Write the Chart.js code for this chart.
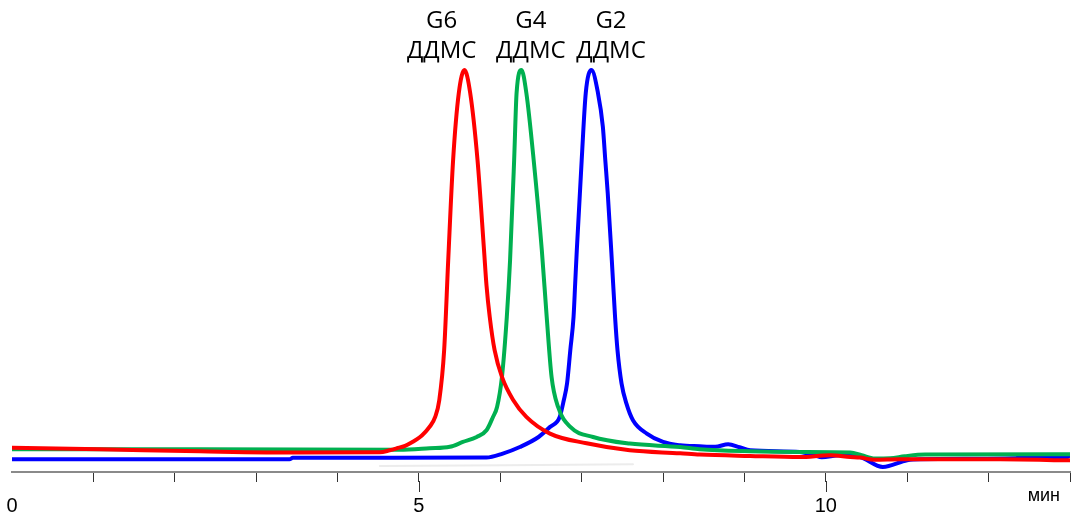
<!DOCTYPE html>
<html>
<head>
<meta charset="utf-8">
<script src="https://cdn.jsdelivr.net/npm/chart.js@4"></script>
<style>
  html, body { margin: 0; padding: 0; background: #fff; }
  #wrap { width: 1074px; height: 515px; position: relative; }
</style>
</head>
<body>
<div id="wrap"><canvas id="chromChart"></canvas></div>
<script>
// retention time (min) and detector signal for each sample
const g6Time = [0, 1.08, 2.31, 3.54, 4.52, 4.64, 4.73, 4.83, 4.92, 5.01, 5.08, 5.13, 5.20, 5.25, 5.31, 5.36, 5.42, 5.49, 5.56, 5.63, 5.72, 5.80, 5.83, 5.87, 5.93, 6.02, 6.16, 6.32, 6.61, 7.06, 7.59, 8.21, 8.45, 9.07, 9.68, 10.05, 10.30, 10.42, 10.60, 10.91, 12.14, 13.0];
const g6Signal = [6.02, 5.65, 5.15, 4.83, 4.9, 5.4, 5.9, 6.52, 7.47, 8.64, 10.0, 11.2, 13.7, 17.85, 30.3, 52.7, 77.6, 94.3, 100, 94.3, 77.6, 55.2, 46.5, 38.6, 30.3, 23.65, 17.85, 13.7, 9.56, 7.14, 5.4, 4.66, 4.33, 3.98, 3.73, 4.16, 3.73, 3.58, 3.04, 3.16, 3.16, 2.91];

const g4Time = [0, 2.31, 4.76, 5.13, 5.38, 5.54, 5.71, 5.83, 5.91, 5.96, 6.02, 6.08, 6.12, 6.17, 6.20, 6.26, 6.32, 6.41, 6.51, 6.57, 6.63, 6.71, 6.86, 7.14, 7.59, 8.21, 8.45, 9.07, 9.68, 10.30, 10.44, 10.60, 10.79, 10.97, 11.22, 13.0];
const g4Signal = [5.65, 5.65, 5.53, 5.9, 6.27, 7.47, 8.71, 10.38, 13.7, 16.18, 23.65, 38.6, 52.7, 77.6, 94.3, 100, 94.3, 77.6, 55.2, 38.6, 23.65, 16.18, 11.2, 8.71, 7.07, 6.22, 5.65, 5.15, 4.98, 4.83, 4.16, 3.34, 3.41, 3.91, 4.33, 4.41];

const g2Time = [0, 3.41, 3.45, 5.83, 6.03, 6.24, 6.47, 6.61, 6.73, 6.78, 6.82, 6.86, 6.90, 6.92, 6.94, 7.00, 7.05, 7.12, 7.20, 7.26, 7.29, 7.32, 7.37, 7.41, 7.44, 7.49, 7.55, 7.63, 7.80, 8.00, 8.21, 8.45, 8.64, 8.80, 8.94, 9.07, 9.68, 9.86, 9.95, 10.17, 10.42, 10.70, 11.00, 11.16, 12.32, 12.38, 12.95, 13.0];
const g2Signal = [3.16, 3.16, 3.53, 3.58, 4.58, 6.22, 8.71, 11.2, 13.7, 17.85, 22.0, 30.3, 38.6, 46.9, 55.2, 77.6, 94.3, 100, 94.3, 85.9, 77.6, 69.4, 52.7, 38.6, 30.3, 22.0, 17.0, 12.87, 9.56, 7.47, 6.65, 6.4, 6.27, 6.9, 6.15, 5.4, 4.98, 4.16, 3.66, 4.16, 3.73, 1.24, 2.91, 3.16, 3.41, 3.53, 3.53, 4.16];

// pale reference trace under the peaks
const refTime = [4.52, 7.63];
const refSignal = [1.5, 1.9];

const peakNames = ["G6", "G4", "G2"];
const peakSubtitle = "ДДМС";
const peakLabelAt = [5.28, 6.375, 7.36];
const axisLabels = [0, 5, 10];
const unitLabel = "мин";

function toPoints(time, signal) {
  return time.map((t, i) => ({ x: t, y: signal[i] }));
}

function trace(label, time, signal, color, width) {
  return {
    label: label,
    data: toPoints(time, signal),
    borderColor: color,
    borderWidth: width,
    pointRadius: 0,
    fill: false,
    cubicInterpolationMode: "monotone",
    borderJoinStyle: "round",
    borderCapStyle: "round",
  };
}

// names above the peaks, longer marks at labelled minutes, unit label
const annotate = {
  id: "annotate",
  afterDraw(chart) {
    const { ctx, chartArea } = chart;
    const x = chart.scales.x;
    ctx.save();
    ctx.strokeStyle = "#333";
    ctx.lineWidth = 1;
    axisLabels.filter((v) => v > 0).forEach((v) => {
      const px = Math.round(x.getPixelForValue(v)) + 0.5;
      ctx.beginPath();
      ctx.moveTo(px, chartArea.bottom + 9);
      ctx.lineTo(px, chartArea.bottom + 20);
      ctx.stroke();
    });

    ctx.fillStyle = "#000";
    ctx.font = '18px "Liberation Sans", Arial, sans-serif';
    ctx.textAlign = "right";
    ctx.textBaseline = "alphabetic";
    ctx.fillText(unitLabel, chartArea.right - 10, chartArea.bottom + 28.5);

    ctx.font = '24px "Open Sans", sans-serif';
    ctx.textAlign = "center";
    peakNames.forEach((name, i) => {
      const px = x.getPixelForValue(peakLabelAt[i]);
      ctx.fillText(name, px, 28);
      ctx.fillText(peakSubtitle, px, 58);
    });
    ctx.restore();
  },
};

const ctx = document.getElementById("chromChart").getContext("2d");
const chromChart = new Chart(ctx, {
  type: "line",
  data: {
    datasets: [
      trace("G6 ДДМС", g6Time, g6Signal, "#ff0000", 4),
      trace("G4 ДДМС", g4Time, g4Signal, "#00b050", 4),
      trace("G2 ДДМС", g2Time, g2Signal, "#0000ff", 4),
      trace("ref", refTime, refSignal, "#ececec", 2),
    ],
  },
  options: {
    responsive: true,
    maintainAspectRatio: false,
    animation: false,
    layout: {
      padding: { top: 50, left: 12, right: 4, bottom: 0 },
    },
    plugins: {
      legend: { display: false },
      tooltip: { enabled: false },
    },
    scales: {
      x: {
        type: "linear",
        min: 0,
        max: 13,
        afterFit: (scale) => {
          scale.height = 43;
          scale.paddingLeft = 0;
          scale.paddingRight = 0;
        },
        border: { display: true, color: "#8a8a8a", width: 2 },
        grid: {
          drawOnChartArea: false,
          drawTicks: true,
          tickLength: 10,
          tickWidth: 1,
          tickColor: (c) => (c.tick && c.tick.value === 0 ? "rgba(0,0,0,0)" : "#333"),
        },
        ticks: {
          stepSize: 1,
          autoSkip: false,
          maxRotation: 0,
          padding: 12,
          color: "#000",
          font: { family: '"Liberation Sans", Arial, sans-serif', size: 20 },
          callback: (v) => (axisLabels.includes(v) ? String(v) : ""),
        },
      },
      y: {
        display: false,
        min: 0,
        max: 105,
      },
    },
  },
  plugins: [annotate],
});
</script>
</body>
</html>
